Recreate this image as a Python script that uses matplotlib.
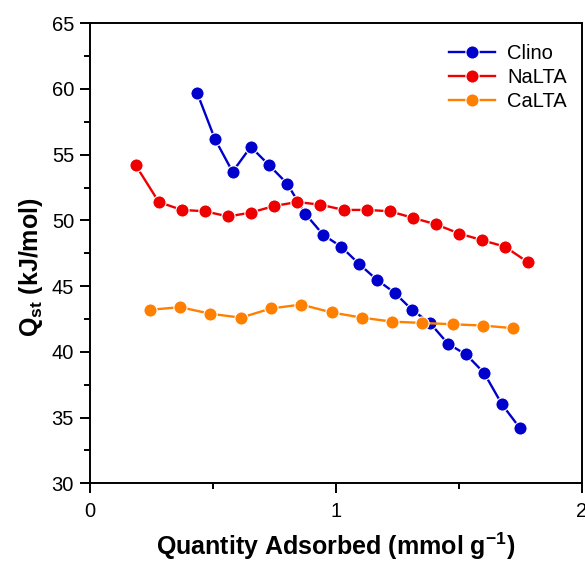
import numpy as np
import matplotlib
matplotlib.use("Agg")
import matplotlib.pyplot as plt
from matplotlib.ticker import MultipleLocator

plt.rcParams['font.family'] = ['Liberation Sans', 'DejaVu Sans']

# data
clino_x = [0.436, 0.508, 0.580, 0.654, 0.729, 0.802, 0.876, 0.949, 1.022,
           1.094, 1.166, 1.239, 1.310, 1.383, 1.457, 1.530, 1.603, 1.676, 1.749]
clino_y = [59.7, 56.2, 53.7, 55.6, 54.2, 52.8, 50.5, 48.9, 48.0,
           46.7, 45.5, 44.5, 43.2, 42.2, 40.6, 39.8, 38.4, 36.0, 34.2]

nalta_x = [0.186, 0.280, 0.373, 0.467, 0.562, 0.655, 0.749, 0.843, 0.937,
           1.032, 1.126, 1.219, 1.313, 1.408, 1.502, 1.595, 1.688, 1.783]
nalta_y = [54.2, 51.4, 50.8, 50.7, 50.3, 50.6, 51.1, 51.4, 51.2,
           50.8, 50.8, 50.7, 50.2, 49.7, 49.0, 48.5, 48.0, 46.8]

calta_x = [0.243, 0.367, 0.490, 0.614, 0.736, 0.859, 0.983, 1.107, 1.229,
           1.352, 1.476, 1.600, 1.722]
calta_y = [43.2, 43.4, 42.9, 42.6, 43.3, 43.6, 43.0, 42.6, 42.3,
           42.2, 42.1, 42.0, 41.8]

fig = plt.figure(figsize=(5.85, 5.61), dpi=100)
ax = fig.add_axes([0.1538, 0.1385, 0.8405, 0.82])

style = dict(marker='o', markersize=9.5, markeredgecolor='white', markeredgewidth=0.8, linewidth=1.7)
ax.plot(clino_x, clino_y, color='#0000CC', label='Clino', **style)
ax.plot(nalta_x, nalta_y, color='#EE0000', label='NaLTA', **style)
ax.plot(calta_x, calta_y, color='#FF8000', label='CaLTA', **style)

ax.set_xlim(0, 2)
ax.set_ylim(30, 65)
ax.xaxis.set_major_locator(MultipleLocator(1))
ax.xaxis.set_minor_locator(MultipleLocator(0.5))
ax.yaxis.set_major_locator(MultipleLocator(5))
ax.yaxis.set_minor_locator(MultipleLocator(2.5))
ax.tick_params(which='major', direction='out', length=7.5, width=1.4, labelsize=14.5, pad=4)
ax.tick_params(axis='x', which='major', pad=6)
ax.tick_params(which='minor', direction='out', length=4.5, width=1.4)
for s in ax.spines.values():
    s.set_linewidth(1.4)

ax.set_xlabel('Quantity Adsorbed (mmol g$^{\\mathregular{-1}}$)', fontsize=18, fontweight='bold')
ax.set_ylabel('Q$_{\\mathregular{st}}$ (kJ/mol)', fontsize=18, fontweight='bold')
ax.xaxis.set_label_coords(0.5, -0.102)
ax.yaxis.set_label_coords(-0.092, 0.47)

ax.legend(loc='upper right', bbox_to_anchor=(1.007, 0.994), frameon=False, fontsize=14.5,
          handlelength=2.3, handletextpad=0.6, labelspacing=0.25)

fig.savefig('out.png', dpi=100)
